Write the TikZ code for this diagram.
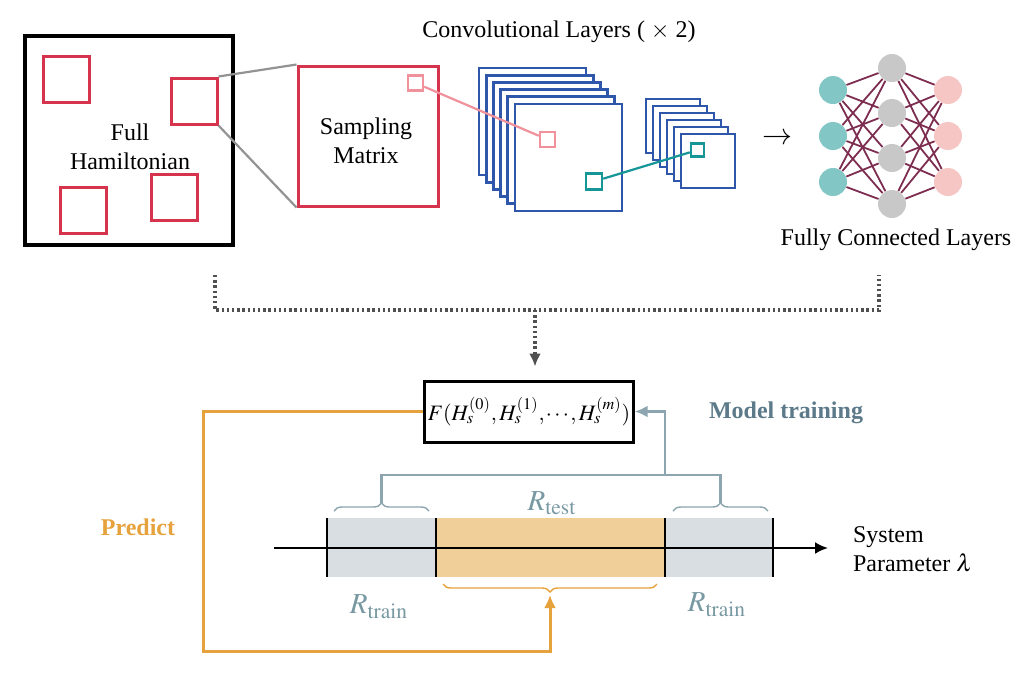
\documentclass[tikz,border=0pt]{standalone}
\usepackage{mathptmx}
\usepackage[no-math]{fontspec}
\setmainfont{Liberation Serif}
\usetikzlibrary{arrows.meta}
\usetikzlibrary{decorations.pathreplacing}

\definecolor{hamred}{RGB}{214,52,76}
\definecolor{patchpink}{RGB}{240,145,155}
\definecolor{mapblue}{RGB}{46,86,170}
\definecolor{patchteal}{RGB}{22,150,150}
\definecolor{inteal}{RGB}{130,198,198}
\definecolor{hidgray}{RGB}{200,200,200}
\definecolor{outpink}{RGB}{245,198,195}
\definecolor{edgewine}{RGB}{125,45,80}
\definecolor{trainfill}{RGB}{217,222,226}
\definecolor{testfill}{RGB}{240,207,153}
\definecolor{predorange}{RGB}{230,162,60}
\definecolor{traingray}{RGB}{140,165,175}
\definecolor{labelgray}{RGB}{120,152,162}
\definecolor{modelgray}{RGB}{92,122,137}
\definecolor{dotgray}{RGB}{80,80,80}

\begin{document}
\begin{tikzpicture}[x=0.5pt,y=-0.5pt,
    font=\fontsize{12}{14.5}\selectfont,
    hambox/.style={draw=black,line width=1.6pt,minimum width=104pt,minimum height=104.5pt,inner sep=0pt},
    subpatch/.style={draw=hamred,line width=1.5pt,minimum size=23pt,inner sep=0pt},
    smpbox/.style={draw=hamred,line width=1.5pt,minimum size=70pt,inner sep=0pt},
    kernel/.style={draw=#1,line width=1.2pt,fill=white,minimum size=7.5pt,inner sep=0pt},
    bigmap/.style={draw=mapblue,line width=1.4pt,fill=white,minimum size=53.5pt,inner sep=0pt},
    smallmap/.style={draw=mapblue,line width=1.4pt,fill=white,minimum size=27pt,inner sep=0pt},
    neuron/.style={circle,fill=#1,minimum size=14pt,inner sep=0pt},
    fcedge/.style={draw=edgewine,line width=0.9pt},
    zoomline/.style={draw=gray!85,line width=1.1pt},
    dotline/.style={draw=dotgray,line width=1.6pt,dash pattern=on 1.2pt off 1.4pt},
    endtip/.style={-{Latex[length=6.5pt,width=6pt]}},
    trainline/.style={draw=traingray,line width=1.4pt},
    predline/.style={draw=predorange,line width=1.5pt},
    bracket/.style={decorate,decoration={brace,amplitude=4pt},line width=0.7pt},
    tickline/.style={line width=1.4pt},
    rangelbl/.style={labelgray,font=\fontsize{14.5}{16}\selectfont},
    boldlbl/.style={font=\bfseries\fontsize{12}{14.5}\selectfont}]
    \useasboundingbox (0,0) rectangle (1030,676);

    % Full Hamiltonian with its samples
    \node[hambox] (ham) at (129,140.5) {};
    \node[align=center] (hamlbl) at (130,147) {Full\\Hamiltonian};
    \node[subpatch] (p1) at (66.5,79) {};
    \node[subpatch] (p2) at (194,101) {};
    \node[subpatch] (p3) at (83,210) {};
    \node[subpatch] (p4) at (174.5,197.5) {};

    % Zoom onto one sample
    \node[smpbox] (smp) at (368,136) {};
    \node[align=center] (smplbl) at (366,141) {Sampling\\Matrix};
    \draw[zoomline] (p2.north east) -- (smp.north west);
    \draw[zoomline] (p2.south east) -- (smp.south west);

    % Convolutional layers
    \foreach \i in {0,...,5}
        \node[bigmap] (ca\i) at ({532.5+7.2*\i},{121.5+7.2*\i}) {};
    \foreach \i in {0,...,5}
        \node[smallmap] (cb\i) at ({673+7*\i},{126+7*\i}) {};
    \node[kernel=patchpink] (k0) at (415.5,83) {};
    \node[kernel=patchpink] (k1) at (547.5,139.5) {};
    \node[kernel=patchteal,minimum size=8pt] (k2) at (594,181.5) {};
    \node[kernel=patchteal,minimum size=6.5pt] (k3) at (697.5,150) {};
    \draw[patchpink,line width=1.1pt] (k0) -- (k1);
    \draw[patchteal,line width=1.1pt] (k2) -- (k3);
    \node (convlbl) at (559,32) {Convolutional Layers ( $\times$ 2)};
    \node[font=\fontsize{15}{15}\selectfont] (arr) at (777,139) {$\rightarrow$};

    % Fully connected layers
    \foreach \j/\y in {1/90,2/136,3/182} {
        \node[neuron=inteal] (in\j) at (833,\y) {};
        \node[neuron=outpink] (out\j) at (948,\y) {};
    }
    \foreach \j/\y in {1/68,2/113,3/158,4/204}
        \node[neuron=hidgray] (hid\j) at (892,\y) {};
    \foreach \a in {1,2,3}
        \foreach \b in {1,...,4} {
            \draw[fcedge] (in\a) -- (hid\b);
            \draw[fcedge] (hid\b) -- (out\a);
        }
    \node (fclbl) at (896,240) {Fully Connected Layers};

    % Model
    \node[draw,line width=1.5pt,minimum width=100pt,minimum height=30.5pt,inner sep=1.5pt,
        font=\fontsize{11}{13}\selectfont] (fbox) at (529,411.5) {$F(H_s^{(0)},H_s^{(1)},\mkern-1mu\cdots\mkern-1mu,H_s^{(m)})$};
    \coordinate (dl) at (215,275);
    \coordinate (dr) at (879,275);
    \coordinate (dm) at (535,310);
    \draw[dotline] (dl) |- (dm) -| (dr);
    \draw[dotline,endtip,shorten >=6.5pt] (dm) -- (dm |- fbox.north);

    % Parameter axis
    \fill[trainfill] (327,518) rectangle (436,577);
    \fill[testfill] (436,518) rectangle (665,577);
    \fill[trainfill] (665,518) rectangle (773,577);
    \coordinate (ax0) at (274,548);
    \coordinate (ax1) at (828,548);
    \draw[line width=1.1pt,endtip] (ax0) -- (ax1);
    \foreach \x in {327,436,665,773}
        \draw[tickline] (\x,518) -- (\x,577);
    \node[anchor=west,align=left] (syslbl) at (846,549) {System\\Parameter $\lambda$};

    % Ranges
    \draw[bracket,traingray] (334,511) -- (429,511);
    \draw[bracket,traingray] (673,511) -- (768,511);
    \draw[bracket,predorange] (657,584) -- (443,584);
    \node[rangelbl] (rtest) at (552,503) {$R_{\mathrm{test}}$};
    \node[rangelbl] (rtr1) at (379,607) {$R_{\mathrm{train}}$};
    \node[rangelbl] (rtr2) at (717,605) {$R_{\mathrm{train}}$};

    % Training loop
    \coordinate (lbt) at (381.5,503);
    \coordinate (rbt) at (720.5,503);
    \coordinate (tj) at (665,475);
    \draw[trainline] (lbt) |- (tj) -| (rbt);
    \draw[trainline,endtip] (tj) |- (fbox.east);
    \node[boldlbl,modelgray] (trainlbl) at (786,413) {Model training};

    % Prediction loop
    \coordinate (pl) at (203,651);
    \coordinate (obt) at (550,595);
    \draw[predline,endtip] (fbox.west) -| (pl) -| (obt);
    \node[boldlbl,predorange] (predlbl) at (138,527) {Predict};
\end{tikzpicture}
\end{document}
